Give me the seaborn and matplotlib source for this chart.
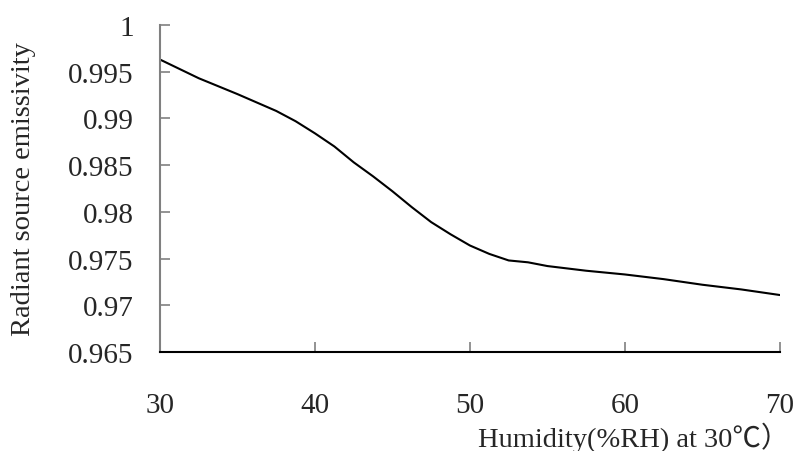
import numpy as np
import pandas as pd
import seaborn as sns
import matplotlib
matplotlib.use("Agg")
import matplotlib.pyplot as plt

# values
humidity = [30, 32.5, 35, 37.5, 38.75, 40, 41.25, 42.5, 43.75, 45, 46.25, 47.5, 48.75,
            50, 51.25, 52.5, 53.75, 55, 57.5, 60, 62.5, 65, 67.5, 70]
emissivity = [0.9963, 0.9943, 0.9926, 0.9908, 0.9897, 0.9884, 0.9870, 0.9853, 0.9838,
              0.9822, 0.9805, 0.9789, 0.9776, 0.9764, 0.9755, 0.9748, 0.9746, 0.9742,
              0.9737, 0.9733, 0.9728, 0.9722, 0.9717, 0.9711]

x_ticks = [30, 40, 50, 60, 70]
y_ticks = [0.965, 0.97, 0.975, 0.98, 0.985, 0.99, 0.995, 1.0]
y_tick_labels = ["0.965", "0.97", "0.975", "0.98", "0.985", "0.99", "0.995", "1"]

df = pd.DataFrame({"humidity": humidity, "emissivity": emissivity})

sns.set_style("ticks")
plt.rcParams["font.family"] = ["Liberation Serif", "Noto Sans CJK SC", "DejaVu Sans"]

fig = plt.figure(figsize=(7.99, 4.52), dpi=100)
ax = fig.add_axes([0.2003, 0.219, 0.7757, 0.7235])

sns.lineplot(data=df, x="humidity", y="emissivity", color="black", linewidth=1.5, ax=ax)

ax.set_xlim(30, 70)
ax.set_ylim(0.965, 1.0)
ax.set_xticks(x_ticks)
ax.set_yticks(y_ticks)
ax.set_yticklabels(y_tick_labels)

for side in ["top", "right"]:
    ax.spines[side].set_visible(False)
ax.spines["left"].set_color("#808080")
ax.spines["bottom"].set_color("black")
ax.spines["left"].set_linewidth(1.5)
ax.spines["bottom"].set_linewidth(1.5)

ax.tick_params(axis="x", direction="in", length=7, width=1.2, color="#808080",
               labelsize=21, pad=29)
ax.tick_params(axis="y", direction="in", length=7, width=1.2, color="#808080",
               labelsize=21, pad=19)

ax.set_xlabel("Humidity(%RH) at 30℃）", fontsize=20.5)
ax.set_ylabel("Radiant source emissivity", fontsize=20.5)
ax.xaxis.set_label_coords(0.765, -0.213)
ax.yaxis.set_label_coords(-0.2, 0.5)

fig.savefig("out.png", dpi=100)
